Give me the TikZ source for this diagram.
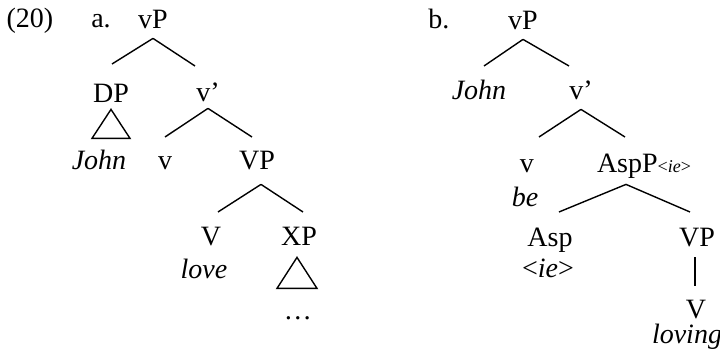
\documentclass[tikz,border=0pt]{standalone}
\usepackage{fontspec}
\setmainfont{Liberation Serif}

\begin{document}
\begin{tikzpicture}[x=0.5pt,y=-0.5pt,
  cat/.style={inner sep=0pt,anchor=base,text height=9.3pt,text depth=3pt,
    font=\fontsize{14}{16}\selectfont},
  lex/.style={cat,font=\fontsize{14}{16}\selectfont\itshape},
  branch/.style={line width=0.7pt}]
  \useasboundingbox (0,0) rectangle (720,362);
  % Example number and sub-labels
  \node[cat] (num) at (30,28) {(20)};
  \node[cat] (laba) at (101,28) {a.};
  \node[cat] (labb) at (439,29) {b.};
  % Tree a: nodes
  \node[cat] (vPa) at (153,29) {vP};
  \node[cat] (DPa) at (111,103) {DP};
  \node[cat] (vbara) at (208,102) {v’};
  \node[lex] (Johna) at (99,170) {John};
  \node[cat] (va) at (165,170) {v};
  \node[cat] (VPa) at (257,170) {VP};
  \node[cat] (Va) at (211,246) {V};
  \node[cat] (XPa) at (299,246) {XP};
  \node[lex] (lovea) at (204,279) {love};
  \node[cat] (dotsa) at (298,320) {\ldots};
  % Tree a: branches
  \draw[branch] ([yshift=-1.5pt]vPa.south) -- ([xshift=0.5pt,yshift=10pt]DPa.north);
  \draw[branch] ([yshift=-1.5pt]vPa.south) -- ([xshift=-6.5pt,yshift=8.5pt]vbara.north);
  \draw[branch] ([yshift=0pt]vbara.south) -- ([yshift=7pt]va.north);
  \draw[branch] ([yshift=0pt]vbara.south) -- ([xshift=-2.5pt,yshift=7pt]VPa.north);
  \draw[branch] ([xshift=2pt,yshift=-4pt]VPa.south) -- ([xshift=3.5pt,yshift=7.5pt]Va.north);
  \draw[branch] ([xshift=2pt,yshift=-4pt]VPa.south) -- ([xshift=2pt,yshift=7.5pt]XPa.north);
  % Tree a: triangles
  \draw[branch] ([yshift=0pt]DPa.south) -- ++(-19,29) -- ++(38,0) -- cycle;
  \draw[branch] ([xshift=-1pt,yshift=-2.5pt]XPa.south) -- ++(-20,31) -- ++(40,0) -- cycle;
  % Tree b: nodes
  \node[cat] (vPb) at (523,30) {vP};
  \node[lex] (Johnb) at (479,100) {John};
  \node[cat] (vbarb) at (581,100) {v’};
  \node[cat] (vb) at (527,173) {v};
  \node[cat] (AspPb) at (644,173) {AspP{\fontsize{9}{10}\selectfont<\textit{ie}>}};
  \node[lex] (beb) at (525,207) {be};
  \node[cat] (Aspb) at (550,247) {Asp};
  \node[cat] (VPb) at (697,247) {VP};
  \node[cat] (ieb) at (548,278) {<\textit{ie}>};
  \node[cat] (Vb) at (696,319) {V};
  \node[lex] (lovingb) at (687,344) {loving};
  % Tree b: branches
  \draw[branch] ([yshift=-1.5pt]vPb.south) -- ([xshift=2.5pt,yshift=7.5pt]Johnb.north);
  \draw[branch] ([yshift=-1.5pt]vPb.south) -- ([xshift=-6pt,yshift=7.5pt]vbarb.north);
  \draw[branch] ([yshift=-1.5pt]vbarb.south) -- ([xshift=6pt,yshift=8.5pt]vb.north);
  \draw[branch] ([yshift=-1.5pt]vbarb.south) -- ([xshift=-9.5pt,yshift=8.5pt]AspPb.north);
  \draw[branch] ([xshift=-9pt,yshift=-2.5pt]AspPb.south) -- ([xshift=4.5pt,yshift=8pt]Aspb.north);
  \draw[branch] ([xshift=-9pt,yshift=-2.5pt]AspPb.south) -- ([xshift=-3.5pt,yshift=8pt]VPb.north);
  \draw[branch] ([xshift=-1pt,yshift=-2pt]VPb.south) -- ([xshift=-0.5pt,yshift=7pt]Vb.north);
\end{tikzpicture}
\end{document}
